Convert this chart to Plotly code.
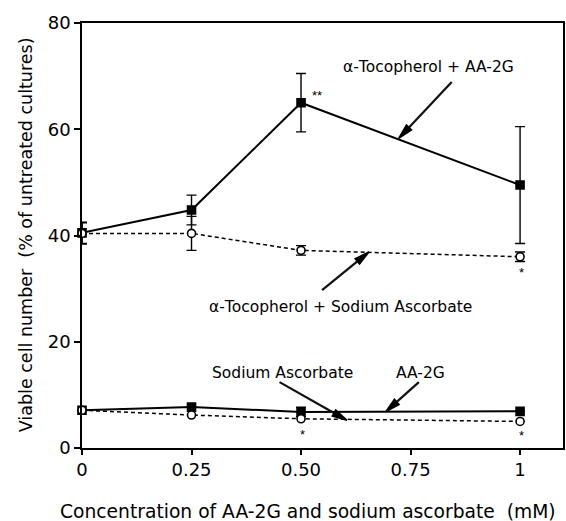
import plotly.graph_objects as go
import math

conc = [0, 0.25, 0.5, 1.0]
toc_aa2g = [40.5, 44.8, 65.0, 49.5]
toc_aa2g_err = [2.0, 2.8, 5.5, 11.0]
toc_na = [40.4, 40.4, 37.2, 36.0]
toc_na_err = [2.0, 3.2, 0.9, 0.9]
aa2g = [7.1, 7.7, 6.8, 6.9]
aa2g_err = [0, 0, 0.9, 0]
na = [7.1, 6.2, 5.5, 5.0]
xticks = [0, 0.25, 0.5, 0.75, 1]
xticklabels = ["0", "0.25", "0.50", "0.75", "1"]
yticks = [0, 20, 40, 60, 80]

FONT = "DejaVu Sans, Liberation Sans, Arial, sans-serif"
W, H = 566, 521
ML, MR, MT, MB = 82, 1, 23, 73
XR = [0, 1.098]
YR = [0, 80]
PW, PH = W - ML - MR, H - MT - MB
sx = PW / (XR[1] - XR[0])
sy = PH / (YR[1] - YR[0])

fig = go.Figure()

def add_series(y, err, dashed, filled):
    fig.add_trace(go.Scatter(
        x=conc, y=y, mode="lines+markers", cliponaxis=False,
        line=dict(color="black", width=1.5 if dashed else 2.0, dash="4px,3px" if dashed else "solid"),
        marker=dict(symbol="square" if filled else "circle", size=8,
                    color="black" if filled else "white", line=dict(color="black", width=1.6)),
        error_y=(dict(type="data", array=err, visible=True, color="black", thickness=1.4, width=5)
                 if err is not None else None),
        showlegend=False,
    ))

add_series(toc_aa2g, toc_aa2g_err, False, True)
add_series(aa2g, aa2g_err, False, True)
add_series(toc_na, toc_na_err, True, False)
add_series(na, None, True, False)

ann = []
shapes = []

def label(text, x, y, size=15.5, family=FONT):
    ann.append(dict(x=x, y=y, xref="x", yref="y", text=text, showarrow=False,
                    font=dict(family=family, size=size, color="black"), xanchor="center", yanchor="middle"))

def arrow(tx, ty, hx, hy, L=15, half=3.5):
    dx = (tx - hx) * sx
    dy = (ty - hy) * sy
    n = math.hypot(dx, dy)
    ux, uy = dx / n, dy / n
    bx, by = hx + ux * L / sx, hy + uy * L / sy
    px, py = -uy, ux
    p1 = (bx + px * half / sx, by + py * half / sy)
    p2 = (bx - px * half / sx, by - py * half / sy)
    shapes.append(dict(type="line", xref="x", yref="y", layer="above", x0=tx, y0=ty, x1=bx, y1=by,
                       line=dict(color="#111111", width=2.2)))
    path = f"M {hx} {hy} L {p1[0]} {p1[1]} L {p2[0]} {p2[1]} Z"
    shapes.append(dict(type="path", xref="x", yref="y", layer="above", path=path,
                       fillcolor="black", line=dict(color="black", width=1.5)))

label("α-Tocopherol + AA-2G", 0.792, 71.8)
arrow(0.844, 68.9, 0.723, 58.3)
label("α-Tocopherol + Sodium Ascorbate", 0.591, 26.5)
arrow(0.548, 29.7, 0.655, 36.9)
label("Sodium Ascorbate", 0.458, 14.2)
arrow(0.451, 12.4, 0.605, 5.2)
label("AA-2G", 0.773, 14.2)
arrow(0.769, 12.4, 0.693, 6.8)

AST = "Liberation Sans, Arial, sans-serif"
label("**", 0.537, 66.4, 13, AST)
label("*", 1.003, 33.0, 13, AST)
label("*", 0.503, 2.6, 13, AST)
label("*", 1.003, 2.4, 13, AST)

ann.append(dict(x=(309 - ML) / PW, y=-(511 - (H - MB)) / PH, xref="paper", yref="paper",
                text="Concentration of AA-2G and sodium ascorbate  (mM)", showarrow=False,
                xanchor="center", yanchor="middle", font=dict(family=FONT, size=18.7, color="black")))
ann.append(dict(x=(26 - ML) / PW, y=1 - (235 - MT) / PH, xref="paper", yref="paper", textangle=-90,
                text="Viable cell number  (% of untreated cultures)", showarrow=False,
                xanchor="center", yanchor="middle", font=dict(family=FONT, size=17.5, color="black")))

fig.update_layout(
    width=W, height=H,
    margin=dict(l=ML, r=MR, t=MT, b=MB),
    plot_bgcolor="white", paper_bgcolor="white",
    font=dict(family=FONT, size=18, color="black"),
    annotations=ann, shapes=shapes,
    xaxis=dict(range=XR, tickvals=xticks, ticktext=xticklabels, showgrid=False, zeroline=False,
               showline=True, linecolor="black", linewidth=1.5, mirror=True, ticks="outside",
               ticklen=5, tickwidth=1.5, tickcolor="black", tickfont=dict(size=18)),
    yaxis=dict(range=YR, tickvals=yticks, showgrid=False, zeroline=False,
               showline=True, linecolor="black", linewidth=1.5, mirror=True, ticks="outside",
               ticklen=6, tickwidth=1.5, tickcolor="black", tickfont=dict(size=18)),
)

fig.write_html("out.html")
